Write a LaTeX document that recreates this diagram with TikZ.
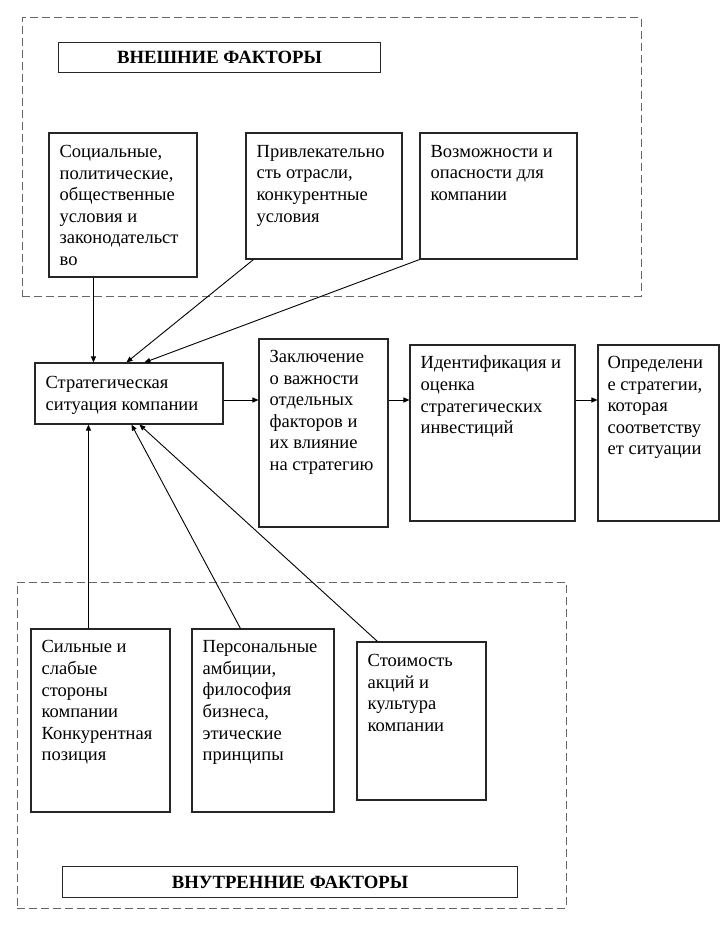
\documentclass[tikz,border=0pt]{standalone}
\usepackage{fontspec}
\setmainfont{Liberation Serif}
\usetikzlibrary{fit,arrows.meta,calc}
\newcommand\mkbox[6]{%
  \coordinate (#1-a) at (#2,#3);
  \coordinate (#1-b) at (#4,#5);
  \node[#6, fit=(#1-a)(#1-b)] (#1) {};}
\begin{document}
\begin{tikzpicture}[x=1pt,y=-1pt,
  box/.style={draw=black!85, line width=1.1pt, inner sep=0pt},
  dbox/.style={draw=black!60, line width=1pt, dash pattern=on 8pt off 4pt, inner sep=0pt},
  txt/.style={anchor=north west, align=left, inner sep=0pt, font=\fontsize{18.5}{21.6}\selectfont, execute at begin node=\strut},
  ttl/.style={box, font=\bfseries\fontsize{18.7}{20}\selectfont},
  arr/.style={line width=0.9pt, -{Triangle[length=6pt,width=5pt]}},
]
\useasboundingbox (0,0) rectangle (720,928);
% dashed groups
\mkbox{ext}{22}{18}{641}{296}{dbox}
\mkbox{int}{17}{582}{566}{908}{dbox}
% titles
\node[ttl, minimum width=322pt, minimum height=30pt, anchor=north west] (extt) at (58,42) {ВНЕШНИЕ ФАКТОРЫ};
\node[ttl, minimum width=455pt, minimum height=31pt, anchor=north west] (intt) at (62,866) {ВНУТРЕННИЕ ФАКТОРЫ};
% external factor boxes
\mkbox{b1}{49}{133}{197}{277}{box}
\mkbox{b2}{246}{133}{402}{259}{box}
\mkbox{b3}{420}{133}{577}{259}{box}
\node[txt] (b1t) at ($(b1.north west)+(11,12.5)$) {Социальные,\\политические,\\общественные\\условия и\\законодательст\\во};
\node[txt] (b2t) at ($(b2.north west)+(11,12.5)$) {Привлекательно\\сть отрасли,\\конкурентные\\условия};
\node[txt] (b3t) at ($(b3.north west)+(11,12.5)$) {Возможности и\\опасности для\\компании};
% main chain
\mkbox{s}{35}{363}{223}{424}{box}
\mkbox{z}{259}{339}{388}{527}{box}
\mkbox{i}{410}{345}{575}{521}{box}
\mkbox{o}{598}{345}{719}{521}{box}
\node[txt] (st) at ($(s.north west)+(11,13.5)$) {Стратегическая\\ситуация компании};
\node[txt] (zt) at ($(z.north west)+(11,11.5)$) {Заключение\\о важности\\отдельных\\факторов и\\их влияние\\на стратегию};
\node[txt] (it) at ($(i.north west)+(11,11.5)$) {Идентификация и\\оценка\\стратегических\\инвестиций};
\node[txt] (ot) at ($(o.north west)+(10,11.5)$) {Определени\\е стратегии,\\которая\\соответству\\ет ситуации};
% internal factor boxes
\mkbox{c1}{31}{629}{170}{812}{box}
\mkbox{c2}{192}{629}{334}{812}{box}
\mkbox{c3}{357}{642}{486}{800}{box}
\node[txt] (c1t) at ($(c1.north west)+(11,12)$) {Сильные и\\слабые\\стороны\\компании\\Конкурентная\\позиция};
\node[txt] (c2t) at ($(c2.north west)+(11,12)$) {Персональные\\амбиции,\\философия\\бизнеса,\\этические\\принципы};
\node[txt] (c3t) at ($(c3.north west)+(11,12.5)$) {Стоимость\\акций и\\культура\\компании};
% connectors
\draw[arr] ($(b1.south west)+(45,0)$) -- ($(s.north west)+(59,0)$);
\draw[arr] ($(b2.south west)+(8,0)$) -- ($(s.north west)+(92,0)$);
\draw[arr] (b3.south west) -- ($(s.north west)+(110,0)$);
\draw[arr] ($(c1.north west)+(58,0)$) -- ($(s.south west)+(54,0)$);
\draw[arr] ($(c2.north west)+(49,0)$) -- ($(s.south west)+(97,0)$);
\draw[arr] ($(c3.north west)+(21,0)$) -- ($(s.south west)+(105,0)$);
\coordinate (hl) at ($(s.east)+(0,6.5)$);
\draw[arr] (hl) -- (hl -| z.west);
\draw[arr] (hl -| z.east) -- (hl -| i.west);
\draw[arr] (hl -| i.east) -- (hl -| o.west);
\end{tikzpicture}
\end{document}
